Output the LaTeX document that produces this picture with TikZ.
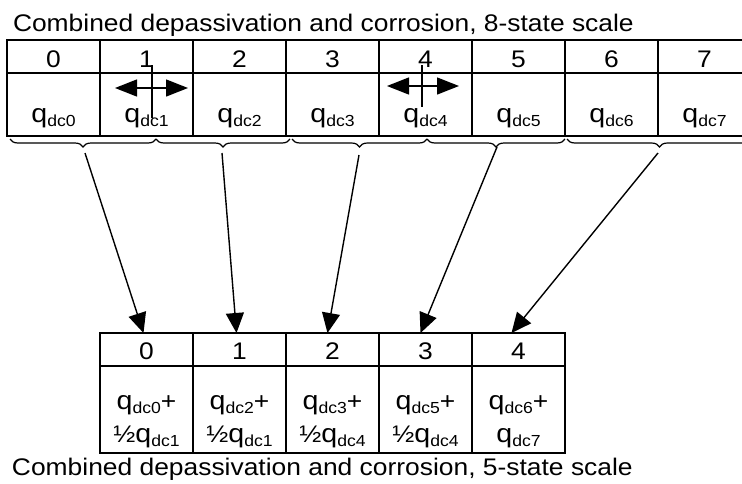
\documentclass[tikz,border=0pt]{standalone}
\usepackage{fontspec}
\setmainfont{Liberation Sans}
\usepackage{graphicx}
\usetikzlibrary{arrows.meta,decorations.pathreplacing}
\newcommand{\wx}[1]{\scalebox{1.1}[1]{#1}}
\newcommand{\qdc}[1]{{\fontsize{26}{26}\selectfont q}{\fontsize{16}{16}\selectfont\raisebox{-4pt}{dc#1}}}
\begin{document}
\begin{tikzpicture}[x=1pt,y=-1pt,
  cellbox/.style={draw, line width=2.9pt, inner sep=0pt, outer sep=0pt, minimum width=93pt},
  hcell/.style={cellbox, minimum height=33pt},
  dcell/.style={cellbox, minimum height=63pt},
  bdcell/.style={cellbox, minimum height=87pt},
  txt/.style={inner sep=0pt, outer sep=0pt, font=\fontsize{24}{24}\selectfont, anchor=base},
  brc/.style={decorate, decoration={brace, mirror, amplitude=8pt}, line width=1.2pt},
  arr/.style={line width=1.4pt, -{Triangle[length=20pt,width=18pt]}},
  dbl/.style={line width=1.4pt, {Triangle[length=22pt,width=17pt]}-{Triangle[length=22pt,width=17pt]}},
  vln/.style={line width=1.4pt}
]
\useasboundingbox (0,0) rectangle (742,483);
\clip (0,0) rectangle (742,483);
\fill[white] (0,0) rectangle (742,483);

% titles
\node[txt, anchor=base west] (t1) at (13,31) {\wx{Combined depassivation and corrosion, 8-state scale}};
\node[txt, anchor=base west] (t2) at (12,475) {\wx{Combined depassivation and corrosion, 5-state scale}};

% top table: 8 states
\foreach \i in {0,...,7} {
  \node[hcell] (h\i) at ({53.5+93*\i},56.5) {};
  \node[dcell] (d\i) at ({53.5+93*\i},104.5) {};
  \node[txt] (hn\i) at ([yshift=6pt]h\i.south) {\wx{\i}};
  \node[txt] (dq\i) at ([yshift=14pt]d\i.south) {\wx{\qdc{\i}}};
}

% bottom table: 5 states
\foreach \i in {0,...,4} {
  \node[hcell] (bh\i) at ({146.5+93*\i},349.5) {};
  \node[bdcell] (bd\i) at ({146.5+93*\i},409.5) {};
  \node[txt] (bn\i) at ([yshift=7pt]bh\i.south) {\wx{\i}};
}
\node[txt] (ba0) at (146.5,409) {\wx{\qdc{0}+}};
\node[txt] (bb0) at (146.5,442) {\wx{½\qdc{1}}};
\node[txt] (ba1) at (239.5,409) {\wx{\qdc{2}+}};
\node[txt] (bb1) at (239.5,442) {\wx{½\qdc{1}}};
\node[txt] (ba2) at (332.5,409) {\wx{\qdc{3}+}};
\node[txt] (bb2) at (332.5,442) {\wx{½\qdc{4}}};
\node[txt] (ba3) at (425.5,409) {\wx{\qdc{5}+}};
\node[txt] (bb3) at (425.5,442) {\wx{½\qdc{4}}};
\node[txt] (ba4) at (518.5,409) {\wx{\qdc{6}+}};
\node[txt] (bb4) at (518.5,442) {\wx{\qdc{7}}};

% split markers in cells 1 and 4
\coordinate (m1l) at (115,88); \coordinate (m1r) at (188,88);
\coordinate (v1t) at (152,65); \coordinate (v1b) at (152,118);
\coordinate (m4l) at (387,86); \coordinate (m4r) at (459,86);
\coordinate (v4t) at (422,65); \coordinate (v4b) at (422,107);
\draw[dbl] (m1l) -- (m1r);
\draw[vln] (v1t) -- (v1b);
\draw[dbl] (m4l) -- (m4r);
\draw[vln] (v4t) -- (v4b);

% braces
\coordinate (b1a) at (10,139);  \coordinate (b1b) at (156,139);
\coordinate (b2a) at (156,139); \coordinate (b2b) at (290,139);
\coordinate (b3a) at (292,139); \coordinate (b3b) at (427,139);
\coordinate (b4a) at (427,139); \coordinate (b4b) at (565,139);
\coordinate (b5a) at (567,139); \coordinate (b5b) at (752,139);
\draw[brc] (b1a) -- (b1b);
\draw[brc] (b2a) -- (b2b);
\draw[brc] (b3a) -- (b3b);
\draw[brc] (b4a) -- (b4b);
\draw[brc] (b5a) -- (b5b);

% arrows
\coordinate (s1) at (85,153);
\coordinate (s2) at (222,153);
\coordinate (s3) at (359,155);
\coordinate (s4) at (497,147);
\coordinate (s5) at (658,153);
\draw[arr] (s1) -- ([xshift=-3pt]bh0.north);
\draw[arr] (s2) -- ([xshift=-3pt]bh1.north);
\draw[arr] (s3) -- ([xshift=-5pt]bh2.north);
\draw[arr] (s4) -- ([xshift=-5pt]bh3.north);
\draw[arr] (s5) -- ([xshift=-7pt]bh4.north);
\end{tikzpicture}
\end{document}
